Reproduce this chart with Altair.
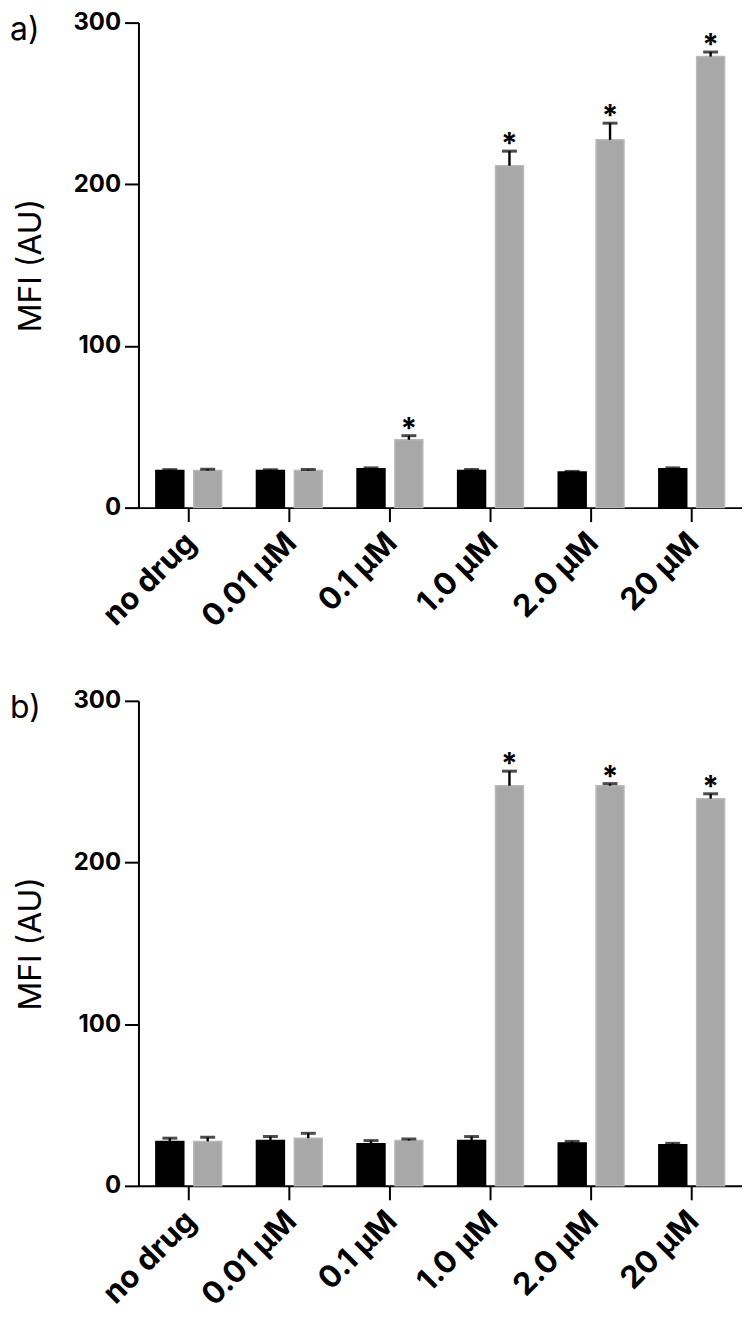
import altair as alt
import pandas as pd

concs = ["no drug", "0.01 µM", "0.1 µM", "1.0 µM", "2.0 µM", "20 µM"]
series = ["control", "treated"]

# panel a
a_black = [23.0, 23.0, 24.0, 23.0, 22.0, 24.0]
a_black_err = [0.5, 0.5, 0.6, 0.6, 0.4, 0.6]
a_gray = [23.0, 23.0, 42.0, 211.5, 227.5, 279.0]
a_gray_err = [0.8, 0.6, 2.5, 9.0, 10.3, 2.8]
a_sig = [False, False, True, True, True, True]

# panel b
b_black = [27.5, 28.0, 26.0, 28.0, 26.5, 25.5]
b_black_err = [2.0, 2.5, 2.0, 2.5, 1.0, 0.8]
b_gray = [27.5, 29.5, 28.0, 247.5, 247.5, 239.5]
b_gray_err = [2.5, 3.0, 1.0, 9.0, 1.3, 3.0]
b_sig = [False, False, False, True, True, True]

FONT = "Inter"


def panel(label, black, black_err, gray, gray_err, sig):
    rows = []
    for i, c in enumerate(concs):
        rows.append(dict(conc=c, series=series[0], value=black[i],
                         top=black[i] + black_err[i], star=""))
        rows.append(dict(conc=c, series=series[1], value=gray[i],
                         top=gray[i] + gray_err[i], star="*" if sig[i] else ""))
    df = pd.DataFrame(rows)

    yaxis = alt.Axis(values=[0, 100, 200, 300], title="MFI (AU)", tickSize=14,
                     labelPadding=4, titlePadding=26, labelFontSize=24,
                     labelFontWeight="bold", titleFontSize=32,
                     titleFontWeight="normal", labelFont=FONT, titleFont=FONT)
    yscale = alt.Scale(domain=[0, 300], nice=False)

    base = alt.Chart(df).encode(
        x=alt.X("conc:N", sort=concs, title=None,
                scale=alt.Scale(paddingInner=0, paddingOuter=0),
                axis=alt.Axis(labelAngle=-45, tickSize=14, labelFontSize=31,
                              labelFontWeight="bold", labelFont=FONT,
                              labelPadding=6, labelOffset=-8)),
        xOffset=alt.XOffset("series:N", sort=series,
                            scale=alt.Scale(paddingInner=0.263, paddingOuter=0.46)),
    )
    bars = base.mark_bar(strokeWidth=1.5).encode(
        y=alt.Y("value:Q", scale=yscale, axis=yaxis),
        color=alt.Color("series:N", sort=series,
                        scale=alt.Scale(domain=series, range=["#000000", "#a8a8a8"]),
                        legend=None),
        stroke=alt.Stroke("series:N", sort=series,
                          scale=alt.Scale(domain=series, range=["#000000", "#b8b8b8"]),
                          legend=None),
    )
    rules = base.mark_rule(color="black", strokeWidth=2.4).encode(
        y=alt.Y("value:Q", scale=yscale, axis=yaxis), y2="top:Q")
    caps = base.mark_tick(color="black", thickness=3, size=15).encode(
        y=alt.Y("top:Q", scale=yscale, axis=yaxis))
    stars = base.mark_text(font=FONT, fontSize=30, fontWeight="bold",
                           baseline="alphabetic", dy=3, color="black").encode(
        y=alt.Y("top:Q", scale=yscale, axis=yaxis), text="star:N")
    lab = alt.Chart(pd.DataFrame({"t": [label]})).mark_text(
        align="left", baseline="top", font=FONT, fontSize=32, color="black"
    ).encode(x=alt.value(-129), y=alt.value(-8), text="t:N")

    return alt.layer(bars, rules, caps, stars, lab).properties(width=606, height=487)


pa = panel("a)", a_black, a_black_err, a_gray, a_gray_err, a_sig)
pb = panel("b)", b_black, b_black_err, b_gray, b_gray_err, b_sig)

chart = alt.vconcat(pa, pb, spacing=56).properties(
    padding={"left": 2, "top": 0, "right": 0, "bottom": 0}
).configure_view(stroke=None).configure_axis(
    domainColor="black", domainWidth=2, tickColor="black", tickWidth=2,
    grid=False, labelColor="black", titleColor="black"
)

chart.save("out.html", embed_options={"renderer": "svg", "actions": False})
